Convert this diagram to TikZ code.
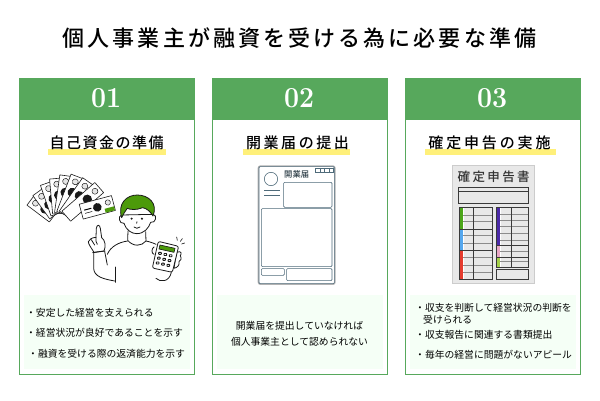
\documentclass[tikz,border=0pt]{standalone}
\usepackage{fontspec}
\usepackage{xcolor}
\usepackage{tikz}
\newfontfamily\jpfont{Noto Sans CJK JP}
\newfontfamily\jpmedium{Noto Sans CJK JP Medium}
\definecolor{cardgreen}{HTML}{57A85C}
\definecolor{marker}{HTML}{FFF07A}
\definecolor{notebg}{HTML}{F5FFF6}
\definecolor{hairgreen}{HTML}{4C9A0A}
\definecolor{formline}{HTML}{4F6B7A}
\definecolor{sheetbg}{HTML}{E8E8E8}
\definecolor{sheetline}{HTML}{3A3A3A}
\definecolor{bargreen}{HTML}{4CA61A}
\definecolor{barblue}{HTML}{55A7EE}
\definecolor{barred}{HTML}{E53B2E}
\definecolor{barpurple}{HTML}{4B2AA8}
\definecolor{barpink}{HTML}{E8A7C5}
\definecolor{barlime}{HTML}{A5D14A}
\tikzset{
  cardframe/.style={draw=cardgreen, line width=1pt, fill=white},
  cardhead/.style={fill=cardgreen},
  cardnum/.style={text=white, font=\fontsize{29}{29}\selectfont\bfseries, xscale=0.92, transform shape},
  cardtitle/.style={font=\jpmedium\fontsize{15}{15}\selectfont, text=black, inner sep=0pt},
  notebox/.style={fill=notebg},
  notetext/.style={font=\jpfont\fontsize{9.8}{9.8}\selectfont, text=black, inner sep=0pt},
  ink/.style={draw=black!90, line width=0.8pt, line cap=round, line join=round},
  formbox/.style={draw=formline, line width=0.6pt, rounded corners=1pt},
  sheetbox/.style={draw=sheetline, line width=0.8pt},
  rowline/.style={draw=black!45, line width=0.6pt},
}
\newcommand{\spaced}[1]{\addfontfeature{LetterSpace=#1}}
\begin{document}
\begin{tikzpicture}[x=1pt,y=-1pt]
  \useasboundingbox (0,0) rectangle (600,400);
  \fill [white] (0,0) rectangle (600,400);
  \node [font=\jpmedium\fontsize{22}{22}\selectfont\spaced{14}, inner sep=0pt] (maintitle) at (299.5,38) {個人事業主が融資を受ける為に必要な準備};

  \foreach \cx/\num in {19/01,212/02,405/03} {
    \draw [cardframe] (\cx,78.5) rectangle ++(175.5,296);
    \fill [cardhead] (\cx-0.5,78) rectangle ++(176.5,42);
    \node [cardnum] at (\cx+87.2,98.5) {\num};
    \fill [notebox] (\cx+5,295) rectangle ++(165.5,74);
  }

  \fill [marker] (48,149) rectangle (166,155);
  \fill [marker] (243,149) rectangle (350,155);
  \fill [marker] (425,149) rectangle (556,155);
  \node [cardtitle] (title1) at (106.5,143) {\spaced{10}自己資金の準備};
  \node [cardtitle] (title2) at (297.5,143) {\spaced{17}開業届の提出};
  \node [cardtitle] (title3) at (489.5,143) {\spaced{19}確定申告の実施};

  \begin{scope}[shift={(20,165)},scale=0.3333]
    \foreach \ang/\len in {143/109,126/111,109/122,95/130,82/139,69/145,55/147,41/156} {
      \begin{scope}[shift={(120,170)},rotate=\ang]
        \draw [ink, line width=0.6pt, fill=white] (25,-20) rectangle (\len,20);
        \fill [black!90] (\len-50,3) circle (14);
        \draw [line width=0.4pt, fill=black!10] (\len-17,0) circle (9);
      \end{scope}
    }
    \begin{scope}[shift={(232,127)},rotate=15]
      \draw [ink, line width=0.6pt, fill=white] (-50,-23) rectangle (50,23);
      \fill [black!90] (0,0) circle (13);
      \draw [line width=0.4pt, fill=black!10] (34,-6) circle (8);
      \fill [hairgreen] (20,10) rectangle (49,22);
      \draw [line width=1pt] (-40,-2) -- (-18,-2);
      \draw [line width=0.5pt] (-40,8) -- (-18,8);
    \end{scope}
    \draw [ink, fill=white] (305,150) .. controls (293,152) and (297,178) .. (312,175) .. controls (318,195) and (335,206) .. (350,206) .. controls (372,206) and (386,190) .. (392,172) .. controls (408,176) and (412,150) .. (400,148) -- cycle;
    \draw [ink, fill=hairgreen] (305,158) .. controls (292,115) and (320,90) .. (352,90) .. controls (385,90) and (415,115) .. (399,153) .. controls (392,140) and (380,130) .. (368,128) .. controls (350,136) and (330,134) .. (322,130) .. controls (315,138) and (310,148) .. (305,158) -- cycle;
    \fill [black!90] (335,161) circle (3.5);
    \fill [black!90] (366,161) circle (3.5);
    \draw [ink] (351,170) -- (350,175);
    \draw [ink] (342,186) .. controls (346,191) and (355,191) .. (360,186);
    \draw [ink] (324,198) -- (323,226) .. controls (340,246) and (365,244) .. (378,228) -- (377,200);
    \draw [ink] (323,228) .. controls (295,232) and (272,245) .. (262,268);
    \draw [ink] (378,228) .. controls (388,230) and (400,234) .. (408,238);
    \draw [ink, fill=white] (228,217) -- (229,190) .. controls (230,178) and (240,178) .. (241,190) -- (245,218) .. controls (256,225) and (258,245) .. (252,258) -- (222,262) .. controls (215,250) and (205,238) .. (205,230) .. controls (208,222) and (216,218) .. (228,217) -- cycle;
    \draw [ink] (214,224) .. controls (218,232) and (222,236) .. (224,240);
    \draw [ink] (228,217) .. controls (226,225) and (228,232) .. (232,238);
    \draw [ink] (218,263) -- (255,258);
    \draw [ink] (221,264) -- (221,310) .. controls (222,335) and (250,342) .. (284,348);
    \draw [ink] (254,259) -- (262,300);
    \draw [ink] (285,306) -- (285,352);
    \draw [ink] (408,340) .. controls (420,352) and (448,352) .. (454,322);
    \draw [ink, fill=white] (402,246) .. controls (394,250) and (394,266) .. (402,268);
    \draw [ink, fill=white] (470,262) .. controls (484,256) and (486,266) .. (481,272) .. controls (486,280) and (482,288) .. (477,290) .. controls (480,300) and (472,308) .. (462,310) -- cycle;
    \draw [ink, fill=white, rounded corners=2pt] (415,229) -- (476,244) -- (457,322) -- (397,309) -- cycle;
    \fill [hairgreen] (420,240) -- (465,250) -- (462,262) -- (417,252) -- cycle;
    \draw [ink, line width=0.6pt] (420,240) -- (465,250) -- (462,262) -- (417,252) -- cycle;
    \foreach \col in {0,1,2} {
      \foreach \row in {0,1,2} {
        \draw [ink, line width=0.9pt, rounded corners=0.5pt] (416+\col*16-\row*3.5,262+\col*3.6+\row*14.5) rectangle ++(8,6);
      }
    }
    \draw [ink, line width=0.6pt] (472,226) -- (470,216);
    \draw [ink, line width=0.6pt] (481,229) -- (487,221);
    \draw [ink, line width=0.6pt] (485,237) -- (494,234);
  \end{scope}

  \begin{scope}[shift={(205,70)},scale=0.3333]
    \draw [black!30, line width=1.2pt, rounded corners=2pt] (160,288) rectangle (390,643);
    \draw [formbox] (162,290) rectangle (388,641);
    \draw [formbox] (198,327) circle (20);
    \draw [formline, line width=0.6pt] (178,360) -- (225,360);
    \draw [formline, line width=0.6pt] (178,376) -- (225,376);
    \node [font=\jpmedium\fontsize{8.3}{8.3}\selectfont, text=formline!60!black, inner sep=0pt] (formname) at (275,313) {開業届};
    \draw [formline, line width=0.6pt] (331,294) rectangle (386,308);
    \foreach \cx in {345,359,373} {
      \draw [formline, line width=0.6pt] (\cx,294) -- (\cx,308);
    }
    \draw [formbox] (236,337) rectangle (381,412);
    \draw [formbox] (169,416) rectangle (381,590);
    \draw [formbox] (169,596) rectangle (238,616);
    \draw [formbox] (245,596) rectangle (381,632);
  \end{scope}

  \begin{scope}[shift={(400,70)},scale=0.3333]
    \draw [black!20, line width=0.6pt, fill=sheetbg] (157,285) rectangle (404,640);
    \node [font=\jpmedium\fontsize{12.5}{12.5}\selectfont\spaced{19}, text=black!80, inner sep=0pt] (sheetname) at (281,320) {確定申告書};
    \draw [sheetbox] (175,352) rectangle (386,400);
    \draw [sheetbox] (175,365) -- (386,365);
    \fill [white] (179,415) rectangle (192,627);
    \fill [white] (290,415) rectangle (304,592);
    \fill [bargreen] (179,415) rectangle (189,476);
    \fill [barblue] (179,479) rectangle (189,540);
    \fill [barred] (179,542) rectangle (189,627);
    \fill [barpurple] (290,415) rectangle (301,527);
    \fill [barpink] (290,529) rectangle (301,562);
    \fill [barlime] (290,565) rectangle (301,592);
    \foreach \ry in {435,455,497,520,563,585,607} {
      \draw [rowline] (189,\ry) -- (276,\ry);
    }
    \foreach \ry in {433,451,470,490,510,545,575} {
      \draw [rowline] (301,\ry) -- (386,\ry);
    }
    \draw [sheetbox] (177,413) rectangle (276,629);
    \draw [sheetbox] (219,413) -- (219,629);
    \draw [sheetbox] (177,477) -- (276,477);
    \draw [sheetbox] (177,541) -- (276,541);
    \draw [sheetbox] (288,413) rectangle (386,593);
    \draw [sheetbox] (334,413) -- (334,593);
    \draw [sheetbox] (288,527) -- (386,527);
    \draw [sheetbox] (288,563) -- (386,563);
    \draw [sheetbox] (288,598) rectangle (386,629);
  \end{scope}

  \node [notetext, anchor=west] (note11) at (26,313) {・安定した経営を支えられる};
  \node [notetext, anchor=west] (note12) at (26,333) {・経営状況が良好であることを示す};
  \node [notetext, anchor=west] (note13) at (28,354) {・融資を受ける際の返済能力を示す};
  \node [notetext] (note21) at (299.5,326) {開業届を提出していなければ};
  \node [notetext] (note22) at (299.5,342) {個人事業主として認められない};
  \node [notetext, anchor=west] (note31) at (415,308) {・収支を判断して経営状況の判断を};
  \node [notetext, anchor=west] (note32) at (423,320) {受けられる};
  \node [notetext, anchor=west] (note33) at (415,335) {・収支報告に関連する書類提出};
  \node [notetext, anchor=west] (note34) at (415,355) {・毎年の経営に問題がないアピール};
\end{tikzpicture}
\end{document}
